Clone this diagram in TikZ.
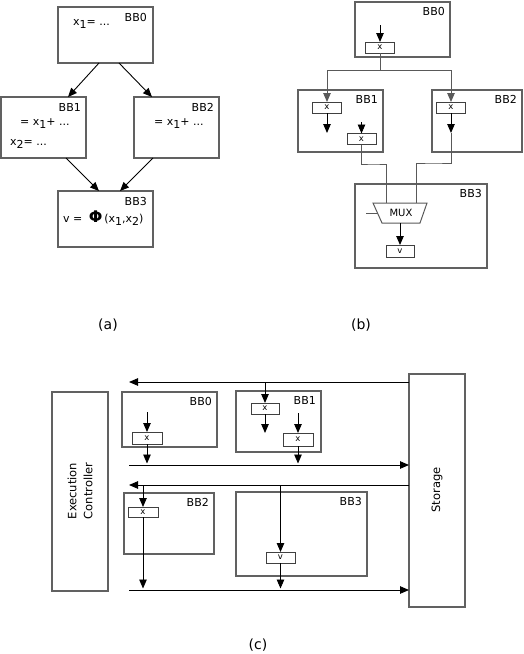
\documentclass[tikz,border=0pt]{standalone}
\usepackage{fontspec}
\setmainfont{DejaVu Sans}
\usetikzlibrary{arrows.meta,calc}
\newcommand{\sbs}[1]{\raisebox{-3.5pt}{#1}}
\begin{document}
\begin{tikzpicture}[x=1pt,y=-1pt,
 box/.style={draw=black!62, line width=1.3pt, anchor=north west, inner sep=0pt, outer sep=0pt},
 reg/.style={draw=black!75, line width=0.9pt, inner sep=0pt, outer sep=0pt, minimum width=29pt, minimum height=11pt, font=\fontsize{8.5}{9}\selectfont},
 lbl/.style={font=\fontsize{11}{12}\selectfont, anchor=north east, inner sep=0pt},
 txt/.style={font=\fontsize{11}{12}\selectfont, anchor=base west, inner sep=0pt},
 captxt/.style={font=\fontsize{14}{16}\selectfont, inner sep=0pt},
 arr/.style={-{Triangle[length=9pt,width=7.5pt]}, line width=0.9pt},
 ln/.style={line width=0.9pt},
 gl/.style={draw=black!65, line width=1pt}]

\useasboundingbox (0,0) rectangle (523,654);

% ---------------- (a) ----------------
\node[box, minimum width=95pt, minimum height=56pt] (a0) at (58,7) {};
\node[box, minimum width=85pt, minimum height=61pt] (a1) at (1,97) {};
\node[box, minimum width=85pt, minimum height=61pt] (a2) at (134,97) {};
\node[box, minimum width=95pt, minimum height=56pt] (a3) at (58,191) {};
\node[lbl] (a0l) at ($(a0.north east)+(-6,6)$) {BB0};
\node[lbl] (a1l) at ($(a1.north east)+(-5,6)$) {BB1};
\node[lbl] (a2l) at ($(a2.north east)+(-5,6)$) {BB2};
\node[lbl] (a3l) at ($(a3.north east)+(-6,6)$) {BB3};
\node[txt] (a0t) at (73,25) {x\sbs{1}= ...};
\node[txt] (a1t) at (20,125) {= x\sbs{1}+ ...};
\node[txt] (a1u) at (10,145) {x\sbs{2}= ...};
\node[txt] (a2t) at (154,125) {= x\sbs{1}+ ...};
\node[txt] (a3t) at (63,222) {v =\; {\fontsize{16}{16}\selectfont\textbf{Φ}}\,(x\sbs{1},x\sbs{2})};
\draw[arr] ($(a0.south west)+(41,0)$) -- ($(a1.north west)+(67,0)$);
\draw[arr] ($(a0.south west)+(61,0)$) -- ($(a2.north west)+(18,0)$);
\draw[arr] ($(a1.south west)+(65,0)$) -- ($(a3.north west)+(41,0)$);
\draw[arr] ($(a2.south west)+(19,0)$) -- ($(a3.north west)+(62,0)$);
\node[captxt] (capa) at (108,325) {(a)};

% ---------------- (b) ----------------
\node[box, minimum width=95pt, minimum height=55pt] (b0) at (355,2) {};
\node[box, minimum width=85pt, minimum height=62pt] (b1) at (298,90) {};
\node[box, minimum width=90pt, minimum height=62pt] (b2) at (432,90) {};
\node[box, minimum width=132pt, minimum height=84pt] (b3) at (355,184) {};
\node[lbl] (b0l) at ($(b0.north east)+(-5,5)$) {BB0};
\node[lbl] (b1l) at ($(b1.north east)+(-5,5)$) {BB1};
\node[lbl] (b2l) at ($(b2.north east)+(-5,5)$) {BB2};
\node[lbl] (b3l) at ($(b3.north east)+(-5,5)$) {BB3};
\node[reg] (b0x) at (380,47.5) {x};
\node[reg] (b1xa) at (327,107.5) {x};
\node[reg] (b1xb) at (361.5,139) {x};
\node[reg] (b2x) at (451,107.5) {x};
\node[reg, minimum width=28pt, minimum height=12pt] (bv) at (400,251) {v};
\coordinate (b0in) at (380,25);
\draw[arr] (b0in) -- (b0x.north);
\coordinate (bsplit) at (380,70);
\draw[gl] (b0x.south) -- (bsplit);
\draw[arr, draw=black!65] (bsplit) -| (b1xa.north);
\draw[arr, draw=black!65] (bsplit) -| (b2x.north);
\coordinate (b1o) at (327,133);
\draw[arr] (b1xa.south) -- (b1o);
\coordinate (b1in) at (361.5,122);
\draw[arr] (b1in) -- (b1xb.north);
\coordinate (b2o) at (451,133);
\draw[arr] (b2x.south) -- (b2o);
% MUX
\coordinate (m1) at (373,203);
\coordinate (m2) at (427,203);
\coordinate (m3) at (420,223);
\coordinate (m4) at (382,223);
\draw[gl] (m1) -- (m2) -- (m3) -- (m4) -- cycle;
\node[font=\fontsize{10}{10}\selectfont, inner sep=0pt] (mux) at (401,213) {MUX};
\coordinate (muxa) at (386,203);
\coordinate (muxb) at (416,203);
\coordinate (muxo) at (400,223);
\coordinate (muxs) at (366,213);
\coordinate (muxs2) at (377.5,213);
\draw[gl] (muxs) -- (muxs2);
\draw[gl] (b1xb.south) |- (373.5,164) -| (muxa);
\draw[gl] (b2o) |- (433.5,163) -| (muxb);
\draw[arr] (muxo) -- (bv.north);
\node[captxt] (capb) at (361,325) {(b)};

% ---------------- (c) ----------------
\node[box, minimum width=56pt, minimum height=199pt] (ec) at (52,392) {};
\node[rotate=90, font=\fontsize{11.5}{16}\selectfont, align=center, inner sep=0pt] (ect) at (80,491) {Execution\\Controller};
\node[box, minimum width=56pt, minimum height=233pt] (st) at (409,374) {};
\node[rotate=90, font=\fontsize{11.5}{13}\selectfont, inner sep=0pt] (stt) at (437,490) {Storage};
\node[box, minimum width=95pt, minimum height=55pt] (c0) at (122,392) {};
\node[box, minimum width=85pt, minimum height=61pt] (c1) at (236,391) {};
\node[box, minimum width=90pt, minimum height=61pt] (c2) at (124,493) {};
\node[box, minimum width=131pt, minimum height=84pt] (c3) at (236,492) {};
\node[lbl] (c0l) at ($(c0.north east)+(-5,5)$) {BB0};
\node[lbl] (c1l) at ($(c1.north east)+(-5,5)$) {BB1};
\node[lbl] (c2l) at ($(c2.north east)+(-5,5)$) {BB2};
\node[lbl] (c3l) at ($(c3.north east)+(-5,5)$) {BB3};
\node[reg, minimum width=30pt, minimum height=12pt] (c0x) at (147,438) {x};
\node[reg, minimum width=28pt] (c1xa) at (265,408.5) {x};
\node[reg, minimum width=30pt, minimum height=13pt] (c1xb) at (298,439.5) {x};
\node[reg, minimum width=30pt, minimum height=10pt] (c2x) at (143,512) {x};
\node[reg, minimum width=29pt] (c3v) at (280.5,557.5) {v};
% bus lines
\coordinate (t1l) at (129,382);
\coordinate (t1r) at (409,382);
\coordinate (t2l) at (129,465);
\coordinate (t2r) at (409,465);
\coordinate (t3l) at (129,485);
\coordinate (t3r) at (409,485);
\coordinate (t4l) at (129,590);
\coordinate (t4r) at (409,590);
\draw[arr] (t1r) -- (t1l);
\draw[arr] (t2l) -- (t2r);
\draw[arr] (t3r) -- (t3l);
\draw[arr] (t4l) -- (t4r);
% BB0
\coordinate (c0in) at (147,412);
\coordinate (c0o) at (147,463.5);
\draw[arr] (c0in) -- (c0x.north);
\draw[arr] (c0x.south) -- (c0o);
% BB1
\coordinate (c1in) at (265,382);
\coordinate (c1o) at (265,433);
\draw[arr] (c1in) -- (c1xa.north);
\draw[arr] (c1xa.south) -- (c1o);
\coordinate (c1bin) at (298,413);
\coordinate (c1bo) at (298,463.5);
\draw[arr] (c1bin) -- (c1xb.north);
\draw[arr] (c1xb.south) -- (c1bo);
% BB2
\coordinate (c2in) at (143,485);
\coordinate (c2o) at (143,588.5);
\draw[arr] (c2in) -- (c2x.north);
\draw[arr] (c2x.south) -- (c2o);
% BB3
\coordinate (c3in) at (280.5,485);
\coordinate (c3o) at (280.5,588.5);
\draw[arr] (c3in) -- (c3v.north);
\draw[arr] (c3v.south) -- (c3o);
\node[captxt] (capc) at (258,645) {(c)};
\end{tikzpicture}
\end{document}
